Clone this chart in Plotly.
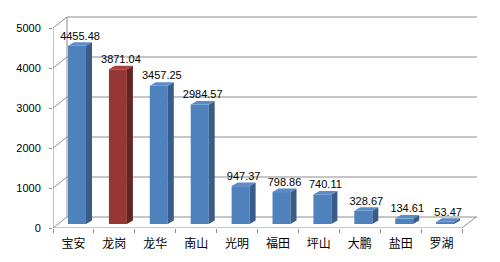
import plotly.graph_objects as go

categories = ["宝安", "龙岗", "龙华", "南山", "光明", "福田", "坪山", "大鹏", "盐田", "罗湖"]
values = [4455.48, 3871.04, 3457.25, 2984.57, 947.37, 798.86, 740.11, 328.67, 134.61, 53.47]
label_text = ["4455.48", "3871.04", "3457.25", "2984.57", "947.37", "798.86", "740.11", "328.67", "134.61", "53.47"]
y_ticks = [0, 1000, 2000, 3000, 4000, 5000]
highlight = "龙岗"

# style / projection constants (in axis units)
PX_X = 1 / 40.9      # one pixel in x units
PX_Y = 25.0          # one pixel in y units
WALL_DX, WALL_DY = 14 * PX_X, 11 * PX_Y
BAR_SHIFT, BAR_BASE, BAR_W = 0.087, 4 * PX_Y, 0.44
DEPTH_DX, DEPTH_DY = 6 * PX_X, 3.5 * PX_Y
N = len(categories)
X0, X1 = -0.5, N - 0.5

front_col = ["#953735" if c == highlight else "#4F81BD" for c in categories]
side_col = ["#632523" if c == highlight else "#385D8A" for c in categories]
top_col = ["#A9403E" if c == highlight else "#5B8CC8" for c in categories]

fig = go.Figure()
xs = [i + BAR_SHIFT for i in range(N)]
fig.add_trace(go.Bar(x=xs, y=values, base=BAR_BASE, width=BAR_W,
                     marker=dict(color=front_col, line=dict(width=0)),
                     hoverinfo="skip", showlegend=False))

for i, v in enumerate(values):
    xl = xs[i] - BAR_W / 2
    xr = xs[i] + BAR_W / 2
    yb, yt = BAR_BASE, BAR_BASE + v
    # side face
    fig.add_trace(go.Scatter(
        x=[xr, xr + DEPTH_DX, xr + DEPTH_DX, xr, xr],
        y=[yb, yb + DEPTH_DY, yt + DEPTH_DY, yt, yb],
        fill="toself", fillcolor=side_col[i], mode="lines",
        line=dict(width=0, color=side_col[i]), hoverinfo="skip", showlegend=False))
    # top face
    fig.add_trace(go.Scatter(
        x=[xl, xl + DEPTH_DX, xr + DEPTH_DX, xr, xl],
        y=[yt, yt + DEPTH_DY, yt + DEPTH_DY, yt, yt],
        fill="toself", fillcolor=top_col[i], mode="lines",
        line=dict(width=0, color=top_col[i]), hoverinfo="skip", showlegend=False))

# data labels
fig.add_trace(go.Scatter(
    x=[x + DEPTH_DX / 2 for x in xs],
    y=[v + BAR_BASE + DEPTH_DY for v in values],
    text=label_text, mode="text", textposition="top center",
    textfont=dict(family="Liberation Sans, Arial, sans-serif", size=11, color="#000000"),
    hoverinfo="skip", showlegend=False, cliponaxis=False))

grid = dict(color="#8C8C8C", width=1)
shapes = []
for v in y_ticks:
    shapes.append(dict(type="line", xref="x", yref="y", layer="below",
                       x0=X0 + WALL_DX, x1=X1 + WALL_DX + 1, y0=v + WALL_DY, y1=v + WALL_DY, line=grid))
    shapes.append(dict(type="line", xref="x", yref="y", layer="below",
                       x0=X0, x1=X0 + WALL_DX, y0=v, y1=v + WALL_DY, line=grid))
top = max(y_ticks)
shapes.append(dict(type="line", xref="x", yref="y", layer="below",
                   x0=X0, x1=X0, y0=0, y1=top, line=grid))
shapes.append(dict(type="line", xref="x", yref="y", layer="below",
                   x0=X0 + WALL_DX, x1=X0 + WALL_DX, y0=WALL_DY, y1=top + WALL_DY, line=grid))
shapes.append(dict(type="line", xref="x", yref="y", layer="below",
                   x0=X0, x1=X1, y0=0, y1=0, line=grid))
shapes.append(dict(type="line", xref="x", yref="y", layer="below",
                   x0=X1, x1=X1 + WALL_DX, y0=0, y1=WALL_DY, line=grid))

fig.update_layout(
    width=500, height=262,
    margin=dict(l=53, r=23, t=16, b=34),
    paper_bgcolor="white", plot_bgcolor="white",
    shapes=shapes,
    font=dict(family="Liberation Sans, Noto Sans CJK SC, sans-serif", size=11, color="#000000"),
    xaxis=dict(range=[X0, X0 + 424 * PX_X], tickmode="array",
               tickvals=list(range(N)), ticktext=categories,
               showgrid=False, zeroline=False, showline=False, ticks="",
               tickfont=dict(family="Noto Sans CJK SC, sans-serif", size=12, color="#000000"),
               ticklabelstandoff=7,
               minor=dict(tickmode="array", tickvals=[i - 0.5 for i in range(N + 1)],
                          ticks="outside", ticklen=4, tickcolor="#8C8C8C", tickwidth=1),
               fixedrange=True),
    yaxis=dict(range=[0, 212 * PX_Y], tickmode="array", tickvals=y_ticks,
               ticktext=[str(v) for v in y_ticks],
               showgrid=False, zeroline=False, showline=False,
               ticks="outside", ticklen=3, tickcolor="#8C8C8C",
               ticklabelstandoff=6,
               tickfont=dict(family="Liberation Sans, Arial, sans-serif", size=11, color="#000000"),
               fixedrange=True),
)

fig.write_html("out.html")
